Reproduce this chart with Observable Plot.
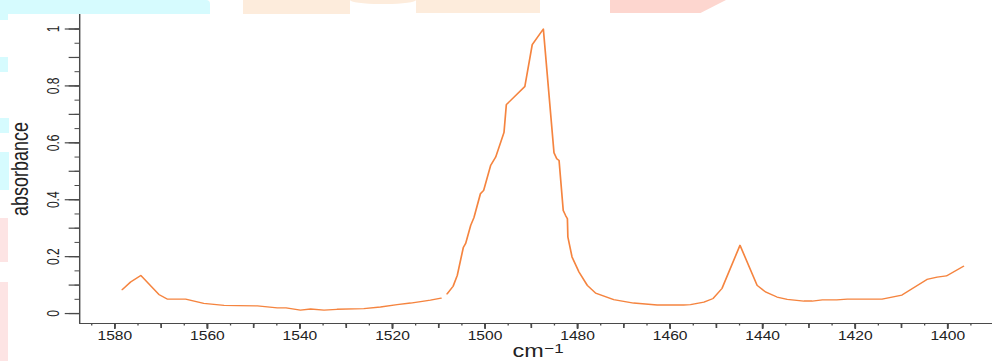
<!DOCTYPE html>
<html>
<head>
<meta charset="utf-8">
<script src="https://cdn.jsdelivr.net/npm/d3@7"></script>
<script src="https://cdn.jsdelivr.net/npm/@observablehq/plot@0.6"></script>
<style>
  html, body { margin: 0; padding: 0; background: #fff; }
  body { width: 992px; height: 361px; overflow: hidden; position: relative; font-family: "Liberation Sans", Arial, sans-serif; }
  .wm { position: absolute; }
  #chart { position: absolute; left: 0; top: 0; }
</style>
</head>
<body>
<!-- faint watermark patches of the reference background -->
<div class="wm" style="left:0;top:0;width:210px;height:14px;background:#d6fbfe;border-top-right-radius:4px;"></div>
<div class="wm" style="left:0;top:14px;width:8px;height:6px;background:#d6fbfe;"></div>
<div class="wm" style="left:243px;top:0;width:107px;height:14px;background:#fdecdc;"></div>
<div class="wm" style="left:350px;top:0;width:66px;height:4px;background:#fdecdc;border-radius:0 0 30px 30px/0 0 4px 4px;"></div>
<div class="wm" style="left:416px;top:0;width:124px;height:13px;background:#fdecdc;"></div>
<div class="wm" style="left:610px;top:0;width:116px;height:13px;background:#fdd6cf;clip-path:polygon(0 0,100% 0,78% 100%,0 100%);"></div>
<div class="wm" style="left:0;top:57px;width:8px;height:15px;background:#d6fbfe;"></div>
<div class="wm" style="left:0;top:118px;width:9px;height:15px;background:#d6fbfe;"></div>
<div class="wm" style="left:0;top:152px;width:9px;height:38px;background:#d6fbfe;"></div>
<div class="wm" style="left:0;top:218px;width:8px;height:44px;background:#fde4e4;"></div>
<div class="wm" style="left:0;top:282px;width:8px;height:79px;background:#fde4e4;"></div>
<div id="chart"></div>
<script>
// ---- data ----
const wavenumber = [1578.4, 1576.6, 1574.4, 1570.5, 1568.7, 1564.7, 1560.8, 1556.4, 1553.5, 1549.2,
  1544.9, 1543.0, 1539.9, 1537.7, 1534.8, 1532.0, 1526.2, 1522.6, 1519.0, 1516.1,
  1513.2, 1511.8, 1509.5, 1508.8, 1508.2, 1506.9, 1506.0, 1504.7, 1504.2, 1503.1,
  1502.4, 1501.0, 1500.3, 1498.8, 1497.7, 1495.9, 1495.4, 1491.4, 1489.8, 1487.4,
  1485.1, 1484.5, 1484.0, 1483.1, 1482.6, 1482.2, 1482.1, 1481.2, 1479.7, 1477.9,
  1476.1, 1472.2, 1467.9, 1462.8, 1457.1, 1455.6, 1452.7, 1450.7, 1448.8, 1444.9,
  1441.2, 1439.4, 1436.9, 1434.7, 1431.1, 1429.3, 1427.1, 1424.0, 1421.7, 1414.2,
  1409.9, 1404.5, 1402.3, 1400.3, 1396.6];
const absorbance = [0.084, 0.111, 0.134, 0.067, 0.051, 0.051, 0.036, 0.029, 0.028, 0.027,
  0.020, 0.020, 0.012, 0.016, 0.012, 0.015, 0.017, 0.023, 0.031, 0.037,
  0.044, 0.047, 0.054, null, 0.069, 0.096, 0.134, 0.232, 0.246, 0.310,
  0.337, 0.421, 0.433, 0.520, 0.550, 0.637, 0.734, 0.798, 0.945, 1.000,
  0.565, 0.544, 0.538, 0.362, 0.345, 0.333, 0.269, 0.199, 0.146, 0.099,
  0.072, 0.049, 0.037, 0.030, 0.030, 0.031, 0.040, 0.053, 0.088, 0.240,
  0.099, 0.076, 0.058, 0.050, 0.044, 0.044, 0.048, 0.048, 0.051, 0.051,
  0.065, 0.120, 0.128, 0.132, 0.166];
const xTickLabels = [1580, 1560, 1540, 1520, 1500, 1480, 1460, 1440, 1420, 1400];
const yTickLabels = [0, 0.2, 0.4, 0.6, 0.8, 1];
const xLabel = "cm";
const xLabelSup = "\u22121";
const yLabel = "absorbance";

const xDomain = [1587.6, 1390.3];
const yDomain = [-0.035, 1.051];

const data = wavenumber.map((w, i) => ({w, a: absorbance[i]}));

// The reference is horizontally stretched; draw at 763 wide and stretch to 992.
const W = 763, H = 361;
const axisColor = "#4a4a4a";
const textColor = "#222";

const svg = Plot.plot({
  width: W,
  height: H,
  marginLeft: 60.8,
  marginRight: 0,
  marginTop: 14,
  marginBottom: 38,
  style: {background: "transparent", fontFamily: "'Liberation Sans', Arial, sans-serif", overflow: "visible"},
  x: {domain: xDomain, range: [60.8, W], label: null},
  y: {domain: yDomain, label: null},
  marks: [
    // axis lines
    Plot.ruleY([yDomain[0]], {stroke: axisColor, strokeWidth: 1.2}),
    Plot.ruleX([xDomain[0]], {stroke: axisColor, strokeWidth: 1.1}),
    // x ticks: minor every 5, major every 10, labelled every 20
    Plot.axisX({ticks: d3.range(1585, 1389, -5), tickSize: 2.5, tickFormat: () => "", label: null, stroke: axisColor}),
    Plot.axisX({ticks: d3.range(1580, 1389, -10), tickSize: 5, tickFormat: () => "", label: null, stroke: axisColor, strokeWidth: 1.3}),
    Plot.axisX({ticks: xTickLabels, tickSize: 6, tickFormat: () => "", label: null, stroke: axisColor, strokeWidth: 1.3}),
    Plot.text(xTickLabels, {x: d => d, frameAnchor: "bottom", dy: 13, text: d => String(d), lineAnchor: "middle", fontSize: 12, fill: textColor}),
    // y ticks: minor every 0.05, major every 0.1, labelled every 0.2
    Plot.axisY({ticks: d3.range(0, 1.001, 0.05), tickSize: 3.5, tickFormat: () => "", label: null, stroke: axisColor}),
    Plot.axisY({ticks: d3.range(0, 1.001, 0.1), tickSize: 8, tickFormat: () => "", label: null, stroke: axisColor, strokeWidth: 1.2}),
    Plot.axisY({ticks: yTickLabels, tickSize: 11, tickFormat: () => "", label: null, stroke: axisColor, strokeWidth: 1.2}),
    Plot.text(yTickLabels, {y: d => d, frameAnchor: "left", dx: -19.5, rotate: -90, text: d => String(d), textAnchor: "middle", lineAnchor: "middle", fontSize: 12, fill: textColor}),
    // axis titles
    Plot.text([yLabel], {frameAnchor: "left", dx: -45.4, rotate: -90, text: d => d, textAnchor: "middle", lineAnchor: "middle", fontSize: 18, fill: textColor}),
    Plot.text([xLabel], {frameAnchor: "bottom", dx: 5.8, dy: 33.5, text: d => d, textAnchor: "end", lineAnchor: "bottom", fontSize: 18, fill: textColor}),
    Plot.text([xLabelSup], {frameAnchor: "bottom", dx: 6.3, dy: 29, text: d => d, textAnchor: "start", lineAnchor: "bottom", fontSize: 13, fill: textColor}),
    // spectrum
    Plot.line(data, {x: "w", y: "a", stroke: "#f5843f", strokeWidth: 1.3})
  ]
});

svg.setAttribute("width", 992);
svg.setAttribute("height", H);
svg.setAttribute("viewBox", `0 0 ${W} ${H}`);
svg.setAttribute("preserveAspectRatio", "none");
svg.style.width = "992px";
svg.style.height = H + "px";
svg.style.maxWidth = "none";
document.getElementById("chart").appendChild(svg);
</script>
</body>
</html>
